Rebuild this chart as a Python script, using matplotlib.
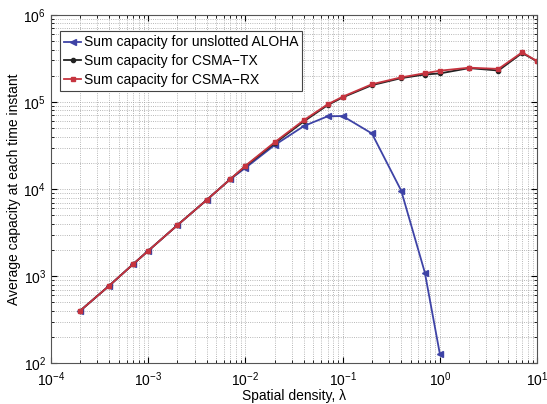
import numpy as np
import matplotlib
matplotlib.use("Agg")
from matplotlib import pyplot as plt
from matplotlib.ticker import LogLocator, NullFormatter

plt.rcParams['font.family'] = ['Liberation Sans', 'DejaVu Sans']

# spatial densities
density = [2e-4, 4e-4, 7e-4, 1e-3, 2e-3, 4e-3, 7e-3, 1e-2, 2e-2, 4e-2,
           7e-2, 1e-1, 2e-1, 4e-1, 7e-1, 1.0, 2.0, 4.0, 7.0, 10.0]

aloha = [400, 780, 1370, 1950, 3850, 7500, 13000, 17500, 32000, 53000,
         68500, 69000, 43500, 9600, 1100, 127]
csma_tx = [400, 780, 1370, 1950, 3850, 7500, 13000, 18300, 33500, 60000,
           92000, 113000, 156000, 188000, 207000, 213000, 245000, 230000,
           365000, 294000]
csma_rx = [400, 780, 1370, 1950, 3850, 7500, 13000, 18500, 34500, 62000,
           94000, 115000, 160000, 192000, 214000, 229000, 248000, 240000,
           372000, 294000]

fig = plt.figure(figsize=(5.47, 4.04), dpi=100)
ax = fig.add_axes([0.093, 0.101, 0.889, 0.862])

ax.loglog(density[:len(aloha)], aloha, color='#3e43a6', marker='<',
          markersize=4, lw=1.3, label='Sum capacity for unslotted ALOHA')
ax.loglog(density, csma_tx, color='#222222', marker='.', markersize=6,
          lw=1.3, label='Sum capacity for CSMA\u2212TX')
ax.loglog(density, csma_rx, color='#c6343f', marker='s', markersize=3.5,
          lw=1.3, label='Sum capacity for CSMA\u2212RX')

ax.set_xlim(1e-4, 1e1)
ax.set_ylim(1e2, 1e6)
ax.xaxis.set_major_locator(LogLocator(base=10, numticks=10))
ax.yaxis.set_major_locator(LogLocator(base=10, numticks=10))
ax.xaxis.set_minor_locator(LogLocator(base=10, subs=np.arange(2, 10), numticks=20))
ax.yaxis.set_minor_locator(LogLocator(base=10, subs=np.arange(2, 10), numticks=20))
ax.xaxis.set_minor_formatter(NullFormatter())
ax.yaxis.set_minor_formatter(NullFormatter())

ax.grid(True, which='both', linestyle=':', color='#a0a0a0', lw=0.6)
ax.tick_params(which='both', direction='in', top=True, right=True, labelsize=10)
ax.tick_params(axis='x', which='major', pad=5)
ax.tick_params(which='major', length=4)
ax.tick_params(which='minor', length=2)
for s in ax.spines.values():
    s.set_color('#555555')
    s.set_linewidth(0.8)

ax.set_xlabel('Spatial density, \u03bb', fontsize=10, labelpad=0)
ax.set_ylabel('Average capacity at each time instant', fontsize=10, labelpad=2)

leg = ax.legend(loc='upper left', bbox_to_anchor=(0.01, 0.965), fontsize=10,
                fancybox=False, framealpha=1, edgecolor='#444444',
                handlelength=1.25, borderpad=0.3, labelspacing=0.35,
                handletextpad=0.15, borderaxespad=0.3)
leg.get_frame().set_linewidth(0.8)

fig.savefig('out.png', dpi=100)
